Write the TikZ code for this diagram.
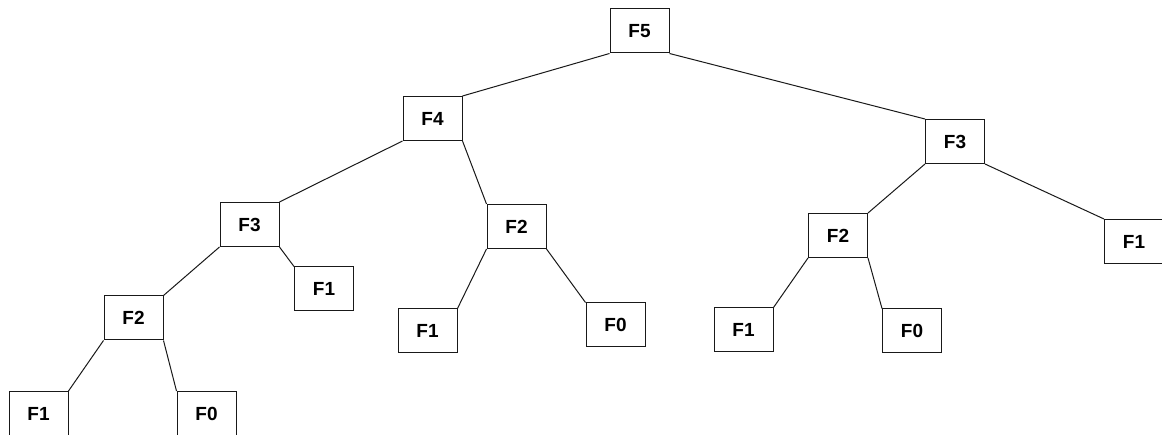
\documentclass[tikz,border=0pt]{standalone}
\usepackage{fontspec}
\setmainfont{Liberation Sans}
\begin{document}
\begin{tikzpicture}[x=1pt,y=-1pt,
  fbox/.style={draw=black!90,line width=1pt,minimum width=59pt,minimum height=44pt,inner sep=0pt,
    font=\fontsize{19}{20}\selectfont\bfseries},
  link/.style={draw=black!90,line width=1pt}]
\useasboundingbox (0,0) rectangle (1162,435);
\clip (0,0) rectangle (1162,435);
\node[fbox] (f5) at (639.5,31) {F5};
\node[fbox] (f4) at (432.5,118.5) {F4};
\node[fbox] (f3r) at (955,141.5) {F3};
\node[fbox] (f1r) at (1134,241.5) {F1};
\node[fbox] (f3l) at (249.5,224.5) {F3};
\node[fbox] (f1a) at (324,289) {F1};
\node[fbox] (f2l) at (133.5,318) {F2};
\node[fbox] (f1b) at (38.5,413.5) {F1};
\node[fbox] (f0b) at (206.5,413.5) {F0};
\node[fbox] (f2m) at (516.5,226.5) {F2};
\node[fbox] (f1m) at (427.5,331) {F1};
\node[fbox] (f0m) at (615.5,325) {F0};
\node[fbox] (f2r) at (838,235.5) {F2};
\node[fbox] (f1c) at (743.5,330) {F1};
\node[fbox] (f0r) at (912,331) {F0};
\draw[link] (f5.south west) -- (f4.north east);
\draw[link] (f5.south east) -- (f3r.north west);
\draw[link] (f4.south west) -- (f3l.north east);
\draw[link] (f4.south east) -- (f2m.north west);
\draw[link] (f3l.south west) -- (f2l.north east);
\draw[link] (f3l.south east) -- (f1a.north west);
\draw[link] (f2l.south west) -- (f1b.north east);
\draw[link] (f2l.south east) -- (f0b.north west);
\draw[link] (f2m.south west) -- (f1m.north east);
\draw[link] (f2m.south east) -- (f0m.north west);
\draw[link] (f3r.south west) -- (f2r.north east);
\draw[link] (f3r.south east) -- (f1r.north west);
\draw[link] (f2r.south west) -- (f1c.north east);
\draw[link] (f2r.south east) -- (f0r.north west);
\end{tikzpicture}
\end{document}
